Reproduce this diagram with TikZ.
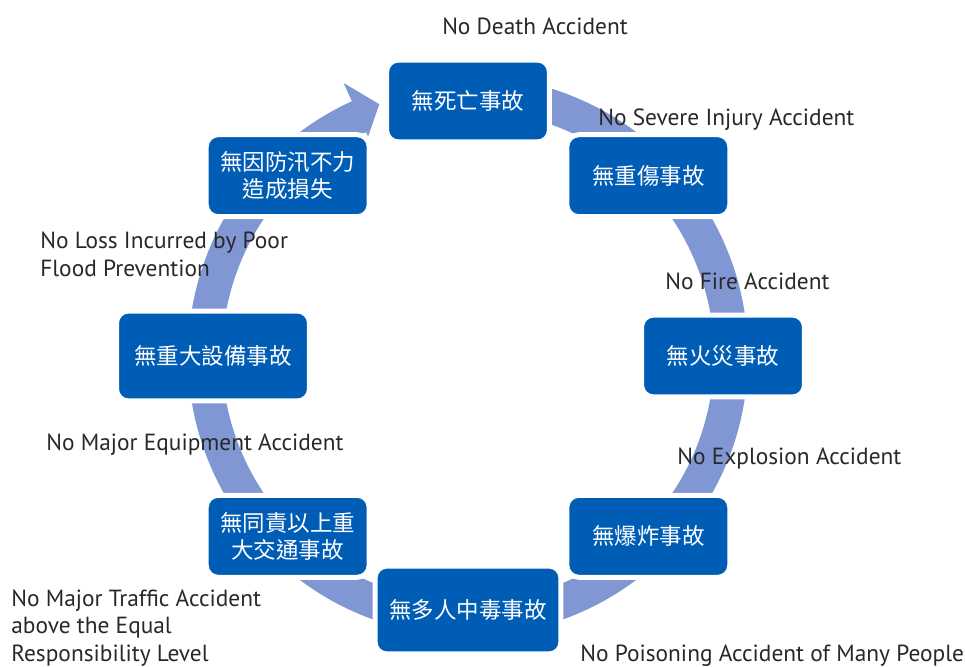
\documentclass[tikz,border=0pt]{standalone}
\usepackage{fontspec}
\setmainfont{PT Sans}
\newfontfamily\cjk{Noto Sans CJK TC}
\definecolor{boxblue}{RGB}{0,93,182}
\definecolor{ringblue}{RGB}{128,151,212}
\definecolor{txtgray}{RGB}{40,40,40}

\tikzset{
  goal/.style={fill=boxblue, draw=white, line width=0.1cm, rounded corners=0.24cm,
    minimum width=3.26cm, minimum height=1.64cm, inner sep=0pt,
    text=white, align=center, font=\cjk\fontsize{12.8}{15.5}\selectfont},
  lbl/.style={text=txtgray, inner sep=0pt, align=left,
    font=\fontsize{13.3}{15.6}\selectfont}
}

\begin{document}
\begin{tikzpicture}[x=0.02cm, y=0.02cm]
	\useasboundingbox (-468,-311) rectangle (497,356);

	% ring with arrowhead
	\fill[ringblue] (90:280) arc[start angle=90, end angle=-245.5, radius=280]
		-- (114.5:300) -- (109.4:267) -- (114.5:241) -- (114.5:246)
		arc[start angle=-245.5, end angle=90, radius=246] -- cycle;

	% goals
	\node[goal] (death) at (90:255) {無死亡事故};
	\node[goal] (injury) at (45:255) {無重傷事故};
	\node[goal] (fire) at (0:255) {無火災事故};
	\node[goal] (explosion) at (-45:255) {無爆炸事故};
	\node[goal, minimum width=3.72cm, minimum height=1.76cm] (poison) at (-90:254) {無多人中毒事故};
	\node[goal] (traffic) at (-135:255) {無同責以上重\\大交通事故};
	\node[goal, minimum width=3.86cm, minimum height=1.8cm] (equipment) at (180:255) {無重大設備事故};
	\node[goal] (flood) at (135:255) {無因防汛不力\\造成損失};

	% labels
	\node[lbl] (death-l) at (67,330) {No Death Accident};
	\node[lbl, anchor=west] (injury-l) at (130,236) {No Severe Injury Accident};
	\node[lbl, anchor=west] (fire-l) at (197,75) {No Fire Accident};
	\node[lbl, anchor=west] (explosion-l) at (209,-103) {No Explosion Accident};
	\node[lbl, anchor=west] (poison-l) at (112,-299.5) {No Poisoning Accident of Many People};
	\node[lbl, anchor=west] (traffic-l) at (-457,-272) {No Major Traffic Accident\\above the Equal\\Responsibility Level};
	\node[lbl, anchor=west] (equipment-l) at (-422,-89) {No Major Equipment Accident};
	\node[lbl, anchor=west] (flood-l) at (-428,101.5) {No Loss Incurred by Poor\\Flood Prevention};

\end{tikzpicture}
\end{document}
